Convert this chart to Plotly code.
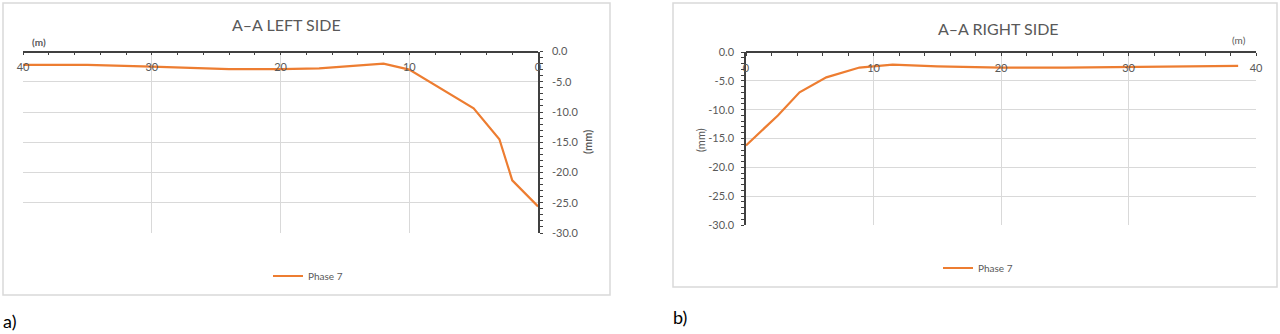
import plotly.graph_objects as go

# ---- data ----
left_x = [40, 35, 30, 26, 24, 20, 17, 12, 10, 5, 3, 2, 0]
left_y = [-2.2, -2.2, -2.5, -2.7, -2.9, -2.9, -2.8, -2.0, -3.0, -9.4, -14.5, -21.3, -25.6]

right_x = [0, 2.5, 4.2, 6.3, 8.9, 11.5, 15, 20, 25, 30, 35, 38.6]
right_y = [-16.2, -11.0, -7.0, -4.4, -2.7, -2.2, -2.5, -2.7, -2.7, -2.6, -2.5, -2.4]

y_tickvals = [0, -5, -10, -15, -20, -25, -30]
y_ticktext = ["0.0", "-5.0", "-10.0", "-15.0", "-20.0", "-25.0", "-30.0"]

series_name = "Phase 7"
left_title = "A\u2013A LEFT SIDE"
right_title = "A\u2013A RIGHT SIDE"

W, H = 1280, 334
FONT = "Lato"
GRAY = "#595959"
GRID = "#d9d9d9"
AXL = "#404040"
ORANGE = "#ED7D31"


def px(x):
    return x / W


def py(y):
    return 1 - y / H


fig = go.Figure()
fig.add_trace(go.Scatter(x=left_x, y=left_y, mode="lines", name=series_name,
                         line=dict(color=ORANGE, width=2.2), xaxis="x", yaxis="y",
                         legend="legend", showlegend=True))
fig.add_trace(go.Scatter(x=right_x, y=right_y, mode="lines", name=series_name,
                         line=dict(color=ORANGE, width=2.2), xaxis="x2", yaxis="y2",
                         legend="legend2", showlegend=True))

tickfont = dict(family=FONT, size=11, color=GRAY)

LX0, LX1, LY0, LY1 = 23, 538, 51.5, 233
RX0, RX1, RY0, RY1 = 746, 1256, 52, 225


def xaxis_main(rng, x0, x1, ytop):
    return dict(domain=[px(x0), px(x1)], range=rng, anchor="free", position=py(ytop),
                side="bottom", showline=True, linecolor=AXL, linewidth=1.5,
                showgrid=True, gridcolor=GRID, gridwidth=1, dtick=10,
                ticks="outside", ticklen=3, tickcolor=AXL, ticklabelstandoff=3,
                tickfont=tickfont, zeroline=False, automargin=False,
                minor=dict(dtick=2, ticks="outside", ticklen=3, tickcolor=AXL,
                           showgrid=False))


def xaxis_over(ov, rng, ya):
    return dict(overlaying=ov, range=rng, side="top", anchor=ya, showline=False,
                showgrid=False, showticklabels=False, ticks="outside", ticklen=3,
                tickcolor=AXL, dtick=10, automargin=False, zeroline=False,
                minor=dict(dtick=2, ticks="outside", ticklen=3, tickcolor=AXL))


def yaxis_main(side, anc, y0, y1, standoff):
    return dict(domain=[py(y1), py(y0)], range=[-30, 0], side=side, anchor=anc,
                showline=True, linecolor=AXL, linewidth=1.5, showgrid=True,
                gridcolor=GRID, gridwidth=1, tickmode="array",
                tickvals=y_tickvals, ticktext=y_ticktext,
                ticks="", tickfont=tickfont, zeroline=False, automargin=False,
                ticklabelstandoff=standoff,
                minor=dict(dtick=1, ticks="outside", ticklen=3, tickcolor=AXL,
                           showgrid=False))


def yaxis_over(ov, side, anc):
    return dict(overlaying=ov, range=[-30, 0], side=side, anchor=anc, showline=False,
                showgrid=False, showticklabels=False, ticks="inside", ticklen=3,
                tickcolor=AXL, dtick=1, automargin=False, zeroline=False)


def note(text, x, y, size, color=GRAY, angle=0, xanchor="center"):
    return dict(text=text, x=px(x), y=py(y), xref="paper", yref="paper",
                xanchor=xanchor, yanchor="middle", showarrow=False, textangle=angle,
                font=dict(family=FONT, size=size, color=color))


fig.update_layout(
    template="none",
    width=W, height=H,
    margin=dict(l=0, r=0, t=0, b=0, autoexpand=False),
    paper_bgcolor="white", plot_bgcolor="white",
    font=dict(family=FONT, color=GRAY),
    xaxis=xaxis_main([40, 0], LX0, LX1, LY0),
    yaxis=yaxis_main("right", "x", LY0, LY1, 10),
    xaxis2=xaxis_main([0, 40], RX0, RX1, RY0),
    yaxis2=yaxis_main("left", "x2", RY0, RY1, 8),
    xaxis3=xaxis_over("x", [40, 0], "y"),
    xaxis4=xaxis_over("x2", [0, 40], "y2"),
    yaxis3=yaxis_over("y", "right", "x"),
    yaxis4=yaxis_over("y2", "left", "x2"),
    legend=dict(x=px(268), y=py(276), xanchor="left", yanchor="middle",
                font=dict(family=FONT, size=10, color=GRAY), bgcolor="rgba(0,0,0,0)"),
    legend2=dict(x=px(938), y=py(268), xanchor="left", yanchor="middle",
                 font=dict(family=FONT, size=10, color=GRAY), bgcolor="rgba(0,0,0,0)"),
    shapes=[
        dict(type="rect", xref="paper", yref="paper", x0=px(3), x1=px(610),
             y0=py(295), y1=py(3), line=dict(color=GRID, width=1.5), layer="below"),
        dict(type="rect", xref="paper", yref="paper", x0=px(673), x1=px(1277),
             y0=py(287), y1=py(3), line=dict(color=GRID, width=1.5), layer="below"),
    ],
    annotations=[
        note(left_title, 286, 25, 16),
        note(right_title, 998, 29, 16),
        note("<b>(m)</b>", 39, 42, 10),
        note("(m)", 1239, 40, 10),
        note("<b>(mm)</b>", 587, 142, 11, angle=-90),
        note("(mm)", 700, 140, 11, angle=-90),
        note("a)", 1, 321, 18, color="black", xanchor="left"),
        note("b)", 671, 317, 18, color="black", xanchor="left"),
    ],
)

fig.write_html("out.html")
